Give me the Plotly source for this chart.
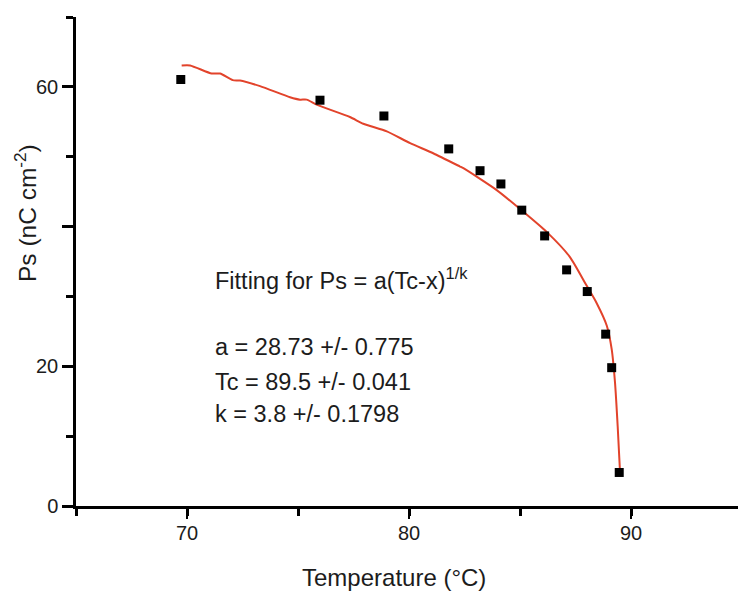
import plotly.graph_objects as go

# Measured data points (Temperature °C, Ps nC cm-2)
temp_pts = [69.72, 75.99, 78.87, 81.79, 83.2, 84.14, 85.08, 86.11, 87.1, 88.03, 88.86, 89.13, 89.47]
ps_pts = [61.05, 58.09, 55.83, 51.12, 48.0, 46.1, 42.35, 38.66, 33.8, 30.7, 24.6, 19.8, 4.8]

# Fitted curve
fit_temp = [69.76, 70.14, 71.11, 71.49, 72.06, 72.39, 73.29, 74.64, 75.09, 75.39, 75.84,
            77.34, 77.94, 79.0, 80.05, 81.09, 82.30, 82.45, 83.95, 85.15, 86.20, 87.25,
            88.0, 88.45, 88.91, 89.13, 89.28, 89.40, 89.50]
fit_ps = [63.07, 63.07, 61.91, 61.91, 60.96, 60.91, 60.10, 58.52, 58.17, 58.17, 57.45,
          55.68, 54.72, 53.63, 51.94, 50.50, 48.59, 48.35, 45.22, 42.12, 39.24, 35.64,
          31.55, 29.06, 25.80, 22.45, 17.65, 11.41, 5.18]

x_ticks = [70, 80, 90]
y_ticks = [0, 20, 40, 60]
y_ticktext = ["0", "20", "", "60"]
y_minor = [10, 30, 50, 70]

x_title = "Temperature (°C)"
y_title = "Ps (nC cm<sup>-2</sup>)"

fit_lines = [
    "Fitting for Ps = a(Tc-x)<sup>1/k</sup>",
    "a = 28.73 +/- 0.775",
    "Tc = 89.5 +/- 0.041",
    "k = 3.8 +/- 0.1798",
]
fit_line_y = [32.5, 22.7, 17.8, 13.1]

FONT = "Liberation Sans, Arial, sans-serif"
TXT = "#1c1c1c"
W, H = 738, 592
ML, MR, MT, MB = 76, 0, 17, 86

fig = go.Figure()
fig.add_trace(go.Scatter(x=fit_temp, y=fit_ps, mode="lines",
                         line=dict(color="#e2432b", width=2, shape="spline", smoothing=0.6),
                         showlegend=False))
fig.add_trace(go.Scatter(x=temp_pts, y=ps_pts, mode="markers",
                         marker=dict(symbol="square", size=9, color="black"),
                         showlegend=False))

for txt, yy in zip(fit_lines, fit_line_y):
    fig.add_annotation(x=71.17, y=yy, xref="x", yref="y", text=txt, showarrow=False,
                       xanchor="left", yanchor="middle",
                       font=dict(family=FONT, size=23.5, color=TXT))

# axis titles placed as paper annotations (pixel-derived positions)
pw, ph = W - ML - MR, H - MT - MB
fig.add_annotation(x=(394 - ML) / pw, y=(H - MB - 577) / ph, xref="paper", yref="paper",
                   text=x_title, showarrow=False, xanchor="center", yanchor="middle",
                   font=dict(family=FONT, size=24, color=TXT))
fig.add_annotation(x=(25 - ML) / pw, y=(H - MB - 213) / ph, xref="paper", yref="paper",
                   text=y_title, showarrow=False, xanchor="center", yanchor="middle",
                   textangle=-90, font=dict(family=FONT, size=24.5, color=TXT))

fig.update_layout(
    width=W, height=H,
    margin=dict(l=ML, r=MR, t=MT, b=MB),
    paper_bgcolor="white", plot_bgcolor="white",
    font=dict(family=FONT, size=20, color=TXT),
)
fig.update_xaxes(
    range=[65, 94.82], showgrid=False, zeroline=False,
    showline=True, linecolor="black", linewidth=2.5,
    tickmode="array", tickvals=x_ticks, ticks="outside", ticklen=10, tickwidth=2,
    tickcolor="black", tickfont=dict(size=20), ticklabelstandoff=-3,
    minor=dict(tickmode="linear", tick0=65, dtick=5, ticks="outside", ticklen=7,
               tickwidth=2.5, tickcolor="black"),
)
fig.update_yaxes(
    range=[0, 70], showgrid=False, zeroline=False,
    showline=True, linecolor="black", linewidth=2.5,
    tickmode="array", tickvals=y_ticks, ticktext=y_ticktext,
    ticks="outside", ticklen=11, tickwidth=2.5, tickcolor="black", tickfont=dict(size=20),
    minor=dict(tickmode="array", tickvals=y_minor, ticks="outside", ticklen=7,
               tickwidth=2.5, tickcolor="black"),
)

fig.write_html("out.html")
